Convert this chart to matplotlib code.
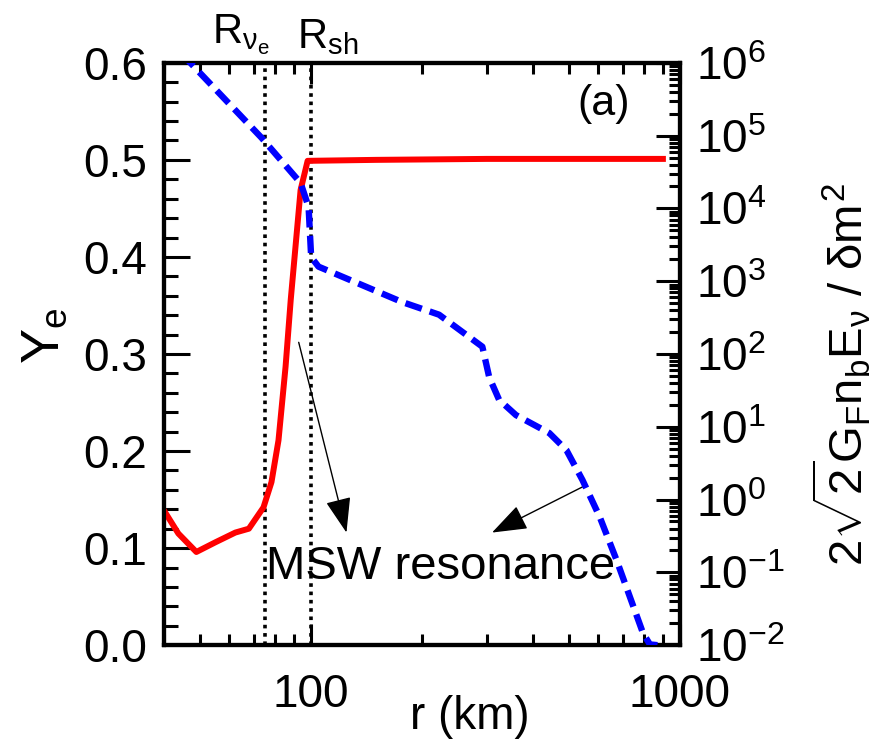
import numpy as np
import matplotlib
matplotlib.use("Agg")
import matplotlib.pyplot as plt
from matplotlib.ticker import LogLocator, NullFormatter, MultipleLocator, FixedLocator

plt.rcParams['font.family'] = ['Liberation Sans', 'DejaVu Sans']
plt.rcParams['mathtext.fontset'] = 'custom'
plt.rcParams['mathtext.rm'] = 'Liberation Sans'
plt.rcParams['mathtext.it'] = 'Liberation Sans'
plt.rcParams['mathtext.bf'] = 'Liberation Sans:bold'

# electron fraction profile
r_ye = [40, 43.8, 49, 55.2, 62.5, 68, 74.5, 78.3, 81.8, 85.5, 88.3, 93.9, 98.1, 150, 300, 600, 900]
ye = [0.139, 0.115, 0.096, 0.106, 0.116, 0.12, 0.142, 0.168, 0.211, 0.287, 0.356, 0.469, 0.499,
      0.5, 0.501, 0.501, 0.501]

# matter potential over delta m^2 (log10 of value)
r_pot = [40, 47.2, 73.6, 93.9, 98.7, 100.3, 105, 176.6, 222.7, 291.8, 304.6, 324, 360,
         443, 493, 545, 607, 674, 795, 830, 870]
log_pot = [6.38, 6.0, 4.97, 4.35, 4.02, 3.33, 3.2, 2.715, 2.54, 2.10, 1.68, 1.37, 1.16,
           0.914, 0.68, 0.268, -0.24, -0.83, -1.835, -1.99, -2.0]

r_nue = 75
r_sh = 100

fig = plt.figure(figsize=(8.76, 7.39), dpi=100)
ax = fig.add_axes([0.187, 0.127, 0.589, 0.788])
ax2 = ax.twinx()

ax.plot(r_ye, ye, color='#ff0000', lw=4.3, zorder=3)
ax2.plot(r_pot, 10 ** np.array(log_pot), color='#0000ff', lw=4.6, ls=(0, (2.7, 1.3)), zorder=3)

for rv in (r_nue, r_sh):
    ax.axvline(rv, color='black', lw=2.6, ls=(0, (1, 1.3)), zorder=2)

ax.set_xscale('log')
ax.set_xlim(40, 1000)
ax.set_ylim(0, 0.6)
ax2.set_yscale('log')
ax2.set_ylim(1e-2, 1e6)

ax.xaxis.set_major_locator(FixedLocator([100, 1000]))
ax.xaxis.set_minor_locator(LogLocator(base=10, subs=np.arange(2, 10)))
ax.xaxis.set_minor_formatter(NullFormatter())
ax.set_xticklabels(['100', '1000'])
ax.set_yticks(np.arange(0, 0.61, 0.1))
ax.set_yticklabels([f'{v:.1f}' for v in np.arange(0, 0.61, 0.1)])
ax.yaxis.set_minor_locator(MultipleLocator(0.02))
ax2.yaxis.set_major_locator(LogLocator(base=10, numticks=20))
ax2.yaxis.set_minor_locator(LogLocator(base=10, subs=np.arange(2, 10), numticks=20))
ax2.yaxis.set_minor_formatter(NullFormatter())

for a in (ax, ax2):
    for s in a.spines.values():
        s.set_linewidth(3)
ax.tick_params(which='both', direction='in', top=True, right=False, width=2.2,
               labelsize=33, pad=12)
ax.tick_params(which='major', axis='y', length=19)
ax.tick_params(which='minor', axis='y', length=10)
ax.tick_params(which='major', axis='x', length=15, pad=20)
ax.tick_params(which='minor', axis='x', length=8)
ax2.tick_params(which='both', direction='in', width=2.2, labelsize=33, pad=12)
ax2.tick_params(which='major', length=17)
ax2.tick_params(which='minor', length=8)

ax.set_xlabel('r (km)', fontsize=33)
ax.xaxis.set_label_coords(0.593, -0.085)
ax.set_ylabel(r'Y$_\mathregular{e}$', fontsize=38)
ax.yaxis.set_label_coords(-0.182, 0.531)
ax2.set_ylabel(r'$2\sqrt{2}G_\mathrm{F}n_\mathrm{b}E_\nu\ /\ \delta m^2$', fontsize=34)
ax2.yaxis.set_label_coords(1.255, 0.464)

trans = ax.get_xaxis_transform()
ax.text(r_nue * 1.03, 1.01, r'R$_{\nu_\mathregular{e}}$', transform=trans, fontsize=30,
        ha='right', va='bottom')
ax.text(r_sh * 0.92, 1.01, r'R$_\mathregular{sh}$', transform=trans, fontsize=30,
        ha='left', va='bottom')
ax.text(0.903, 0.93, '(a)', transform=ax.transAxes, fontsize=31, ha='right', va='center')

ax.text(75.5, 0.068, 'MSW resonance', fontsize=34, ha='left', va='baseline', zorder=5)

arrow = dict(arrowstyle='-|>,head_length=1.1,head_width=0.4', color='black', lw=1,
             mutation_scale=20, shrinkA=0, shrinkB=0)
ax.annotate('', xy=(125, 0.116), xytext=(92.8, 0.312), arrowprops=arrow)
ax.annotate('', xy=(310, 0.116), xytext=(558, 0.165), arrowprops=arrow)

fig.savefig('out.png', dpi=100)
